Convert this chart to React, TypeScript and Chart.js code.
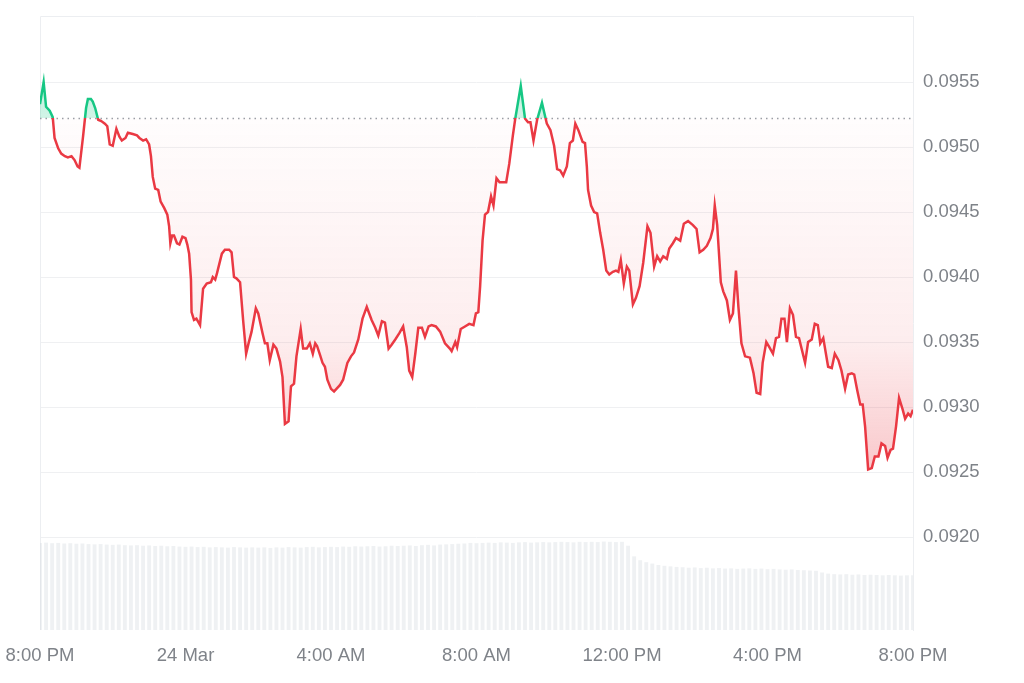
import { useEffect, useRef } from "react"
import { Chart, registerables } from "chart.js"

Chart.register(...registerables)

// x axis: minutes after 8:00 PM (23 Mar)
const X_TICKS = [0, 240, 480, 720, 960, 1200, 1440]
const X_LABELS = ["8:00 PM", "24 Mar", "4:00 AM", "8:00 AM", "12:00 PM", "4:00 PM", "8:00 PM"]
const Y_TICKS = [0.092, 0.0925, 0.093, 0.0935, 0.094, 0.0945, 0.095, 0.0955]

// reference price (dotted line)
const BASELINE = 0.09522

const TIMES = [
  0, 6, 10, 16, 21, 24, 30, 35, 41, 46,
  52, 57, 62, 65, 71, 76, 79, 84, 87, 91,
  96, 101, 107, 111, 115, 120, 126, 131, 135, 141,
  145, 153, 160, 164, 170, 175, 180, 183, 186, 190,
  195, 199, 205, 210, 213, 215, 218, 221, 226, 230,
  235, 240, 243, 246, 249, 250, 254, 258, 264, 269,
  275, 282, 285, 289, 292, 300, 305, 312, 316, 320,
  324, 330, 335, 340, 344, 349, 356, 360, 367, 371,
  375, 379, 385, 390, 396, 400, 404, 410, 414, 419,
  423, 430, 434, 440, 445, 450, 454, 457, 462, 466,
  470, 474, 480, 485, 489, 495, 500, 507, 513, 518,
  525, 532, 539, 547, 553, 558, 564, 569, 575, 580,
  586, 593, 599, 605, 609, 614, 619, 624, 630, 635,
  641, 646, 653, 660, 668, 676, 679, 685, 688, 694,
  701, 708, 715, 719, 723, 726, 730, 734, 739, 744,
  748, 753, 758, 769, 774, 780, 784, 793, 800, 805,
  809, 814, 820, 828, 834, 836, 842, 848, 853, 858,
  863, 869, 874, 879, 883, 888, 895, 899, 902, 904,
  909, 914, 919, 924, 929, 934, 939, 945, 950, 954,
  958, 963, 968, 972, 978, 983, 989, 995, 1002, 1007,
  1013, 1018, 1023, 1028, 1034, 1038, 1044, 1049, 1056, 1062,
  1069, 1077, 1083, 1088, 1094, 1100, 1106, 1110, 1113, 1117,
  1123, 1127, 1133, 1138, 1143, 1148, 1152, 1157, 1163, 1171,
  1177, 1182, 1188, 1192, 1198, 1203, 1209, 1214, 1219, 1223,
  1228, 1232, 1237, 1242, 1247, 1252, 1262, 1267, 1273, 1278,
  1283, 1287, 1292, 1300, 1306, 1311, 1317, 1322, 1328, 1333,
  1339, 1343, 1348, 1353, 1357, 1361, 1366, 1372, 1377, 1383,
  1388, 1394, 1398, 1403, 1407, 1412, 1417, 1423, 1427, 1432,
  1436, 1440,
]

const PRICES = [
  0.09533, 0.0955, 0.09531, 0.09528, 0.09523, 0.09507, 0.09499, 0.09495, 0.09493, 0.09492,
  0.09493, 0.0949, 0.09485, 0.09484, 0.09508, 0.0953, 0.09537, 0.09537, 0.09535, 0.0953,
  0.09521, 0.0952, 0.09518, 0.09516, 0.09502, 0.09501, 0.09514, 0.09508, 0.09505, 0.09507,
  0.09511, 0.0951, 0.09509, 0.09507, 0.09505, 0.09506, 0.09502, 0.09493, 0.09477, 0.09468,
  0.09467, 0.09458, 0.09453, 0.09448, 0.09439, 0.09426, 0.09432, 0.09432, 0.09426, 0.09425,
  0.09431, 0.0943, 0.09425, 0.09418, 0.09398, 0.09373, 0.09367, 0.09368, 0.09363, 0.09391,
  0.09395, 0.09396, 0.094, 0.09398, 0.09403, 0.09418, 0.09421, 0.09421, 0.09419, 0.094,
  0.09399, 0.09396, 0.09367, 0.09341, 0.09349, 0.09358, 0.09376, 0.09372, 0.09357, 0.09349,
  0.09349, 0.09336, 0.09348, 0.09345, 0.09335, 0.09323, 0.09287, 0.09289, 0.09316, 0.09318,
  0.09339, 0.0936, 0.09345, 0.09345, 0.09349, 0.09341, 0.09349, 0.09347, 0.0934, 0.09334,
  0.09331, 0.09321, 0.09314, 0.09312, 0.09314, 0.09317, 0.09321, 0.09334, 0.09339, 0.09342,
  0.09352, 0.09368, 0.09377, 0.09367, 0.09361, 0.09355, 0.09366, 0.09365, 0.09345, 0.09348,
  0.09352, 0.09357, 0.09362, 0.09346, 0.09328, 0.09323, 0.09341, 0.09361, 0.09361, 0.09354,
  0.09362, 0.09363, 0.09362, 0.09358, 0.09349, 0.09345, 0.09343, 0.0935, 0.09346, 0.0936,
  0.09362, 0.09364, 0.09363, 0.09372, 0.09373, 0.09393, 0.09428, 0.09448, 0.0945, 0.09462,
  0.09455, 0.09476, 0.09473, 0.09473, 0.09487, 0.09509, 0.09522, 0.09547, 0.09522, 0.09519,
  0.09519, 0.09505, 0.09521, 0.09534, 0.09522, 0.09518, 0.09513, 0.09501, 0.09483, 0.09482,
  0.09478, 0.09485, 0.09503, 0.09505, 0.09518, 0.09513, 0.09504, 0.09503, 0.09485, 0.09467,
  0.09455, 0.0945, 0.09449, 0.09434, 0.09421, 0.09405, 0.09402, 0.09404, 0.09405, 0.09404,
  0.09413, 0.09395, 0.09408, 0.09405, 0.09379, 0.09384, 0.09393, 0.09411, 0.09439, 0.09434,
  0.09408, 0.09416, 0.09412, 0.09416, 0.09414, 0.09422, 0.09426, 0.0943, 0.09428, 0.09441,
  0.09443, 0.0944, 0.09437, 0.09419, 0.09421, 0.09424, 0.0943, 0.09437, 0.09455, 0.0944,
  0.09396, 0.09389, 0.09382, 0.09367, 0.09372, 0.09405, 0.09377, 0.09349, 0.09339, 0.09338,
  0.09326, 0.09311, 0.0931, 0.09334, 0.0935, 0.09346, 0.09341, 0.09353, 0.09354, 0.09368,
  0.09368, 0.0935, 0.09376, 0.09371, 0.09354, 0.09353, 0.09334, 0.0935, 0.09352, 0.09364,
  0.09363, 0.09349, 0.09353, 0.09331, 0.0933, 0.09341, 0.09336, 0.09328, 0.09314, 0.09325,
  0.09326, 0.09325, 0.09313, 0.09302, 0.09302, 0.09285, 0.09252, 0.09253, 0.09262, 0.09262,
  0.09272, 0.0927, 0.09261, 0.09267, 0.09268, 0.09285, 0.09307, 0.09298, 0.09291, 0.09295,
  0.09293, 0.09298,
]

// 24h volume, one bar every 10 minutes (millions)
const VOLUME_STEP = 10
const VOLUMES = [
  31.2, 31.3, 31.1, 31.2, 31.0, 31.1, 30.9, 31.0, 30.8, 30.7, 30.8, 30.6,
  30.5, 30.6, 30.4, 30.3, 30.4, 30.2, 30.3, 30.1, 30.2, 30.0, 30.1, 29.9,
  29.8, 29.9, 29.7, 29.8, 29.6, 29.7, 29.6, 29.5, 29.7, 29.6, 29.5, 29.6,
  29.5, 29.6, 29.4, 29.6, 29.5, 29.7, 29.6, 29.5, 29.7, 29.8, 29.6, 29.7,
  29.8, 29.7, 29.9, 29.8, 30.0, 29.9, 30.0, 30.1, 29.9, 30.0, 30.2, 30.1,
  30.2, 30.3, 30.1, 30.4, 30.5, 30.3, 30.6, 30.7, 30.8, 30.9, 31.0, 31.2,
  31.1, 31.2, 31.3, 31.2, 31.4, 31.3, 31.2, 31.4, 31.5, 31.3, 31.4, 31.5,
  31.4, 31.5, 31.6, 31.5, 31.4, 31.6, 31.5, 31.6, 31.5, 31.7, 31.6, 31.5,
  31.6, 30.2, 26.4, 25.0, 24.3, 23.8, 23.3, 23.0, 22.8, 22.6, 22.5, 22.3,
  22.4, 22.2, 22.3, 22.1, 22.2, 22.0, 22.1, 21.9, 22.0, 22.1, 21.9, 22.0,
  21.8, 21.9, 21.7, 21.6, 21.7, 21.5, 21.4, 21.3, 21.2, 20.6, 20.2, 20.0,
  19.9, 20.0, 19.8, 19.9, 19.7, 19.8, 19.7, 19.6, 19.7, 19.6, 19.5, 19.6,
  19.6,
]

const GREEN = "#16c784"
const RED = "#ea3943"
const TEXT = "#7f8389"
const GRID = "#eff0f2"

function lineColor(chart: Chart) {
  const { ctx, chartArea, scales } = chart
  if (!chartArea) return RED
  const y = scales.y.getPixelForValue(BASELINE)
  const f = Math.min(1, Math.max(0, (y - chartArea.top) / (chartArea.bottom - chartArea.top)))
  const g = ctx.createLinearGradient(0, chartArea.top, 0, chartArea.bottom)
  g.addColorStop(0, GREEN)
  g.addColorStop(f, GREEN)
  g.addColorStop(f, RED)
  g.addColorStop(1, RED)
  return g
}

function fillColor(chart: Chart) {
  const { ctx, chartArea, scales } = chart
  if (!chartArea) return "rgba(234,57,67,0.1)"
  const top = chartArea.top
  const low = scales.y.getPixelForValue(0.0925)
  const span = low - top
  const fBase = (scales.y.getPixelForValue(BASELINE) - top) / span
  const fMid = (scales.y.getPixelForValue(0.0935) - top) / span
  const g = ctx.createLinearGradient(0, top, 0, low)
  g.addColorStop(0, "rgba(22,199,132,0.35)")
  g.addColorStop(fBase, "rgba(22,199,132,0.2)")
  g.addColorStop(fBase, "rgba(234,57,67,0.01)")
  g.addColorStop(fMid, "rgba(234,57,67,0.09)")
  g.addColorStop(1, "rgba(234,57,67,0.28)")
  return g
}

// light frame on the left and top, plus the dotted reference line
const framePlugin = {
  id: "frame",
  beforeDatasetsDraw(chart: Chart) {
    const { ctx, chartArea: a, scales } = chart
    ctx.save()
    ctx.strokeStyle = "#eceef1"
    ctx.lineWidth = 1
    ctx.beginPath()
    ctx.moveTo(a.left + 0.5, a.bottom)
    ctx.lineTo(a.left + 0.5, a.top + 0.5)
    ctx.lineTo(a.right, a.top + 0.5)
    ctx.stroke()
    const y = scales.y.getPixelForValue(BASELINE)
    ctx.setLineDash([1.5, 4])
    ctx.strokeStyle = "#9a9ea5"
    ctx.lineWidth = 1.5
    ctx.beginPath()
    ctx.moveTo(a.left, y)
    ctx.lineTo(a.right, y)
    ctx.stroke()
    ctx.restore()
  },
}

export default function App() {
  const chartRef = useRef<HTMLCanvasElement>(null)
  const chartInstance = useRef<Chart | null>(null)

  useEffect(() => {
    document.body.style.margin = "0"
    if (!chartRef.current) return
    if (chartInstance.current) chartInstance.current.destroy()
    const ctx = chartRef.current.getContext("2d")
    if (!ctx) return

    const n = Math.min(TIMES.length, PRICES.length)
    const pricePoints = TIMES.slice(0, n).map((t, i) => ({ x: t, y: PRICES[i] }))
    const volumePoints = VOLUMES.map((v, i) => ({ x: i * VOLUME_STEP, y: v }))
    const font = { family: "'Liberation Sans', Arial, sans-serif", size: 18.5 }

    chartInstance.current = new Chart(ctx, {
      type: "line",
      data: {
        datasets: [
          {
            type: "line",
            label: "Price",
            data: pricePoints,
            yAxisID: "y",
            borderWidth: 2.5,
            pointRadius: 0,
            tension: 0,
            borderColor: (c: any) => lineColor(c.chart),
            backgroundColor: (c: any) => fillColor(c.chart),
            fill: { target: { value: BASELINE } },
            order: 1,
          },
          {
            type: "bar",
            label: "Volume",
            data: volumePoints,
            yAxisID: "y2",
            backgroundColor: "rgba(214,218,224,0.38)",
            barPercentage: 0.8,
            categoryPercentage: 0.8,
            order: 2,
          },
        ] as any,
      },
      options: {
        responsive: false,
        animation: false,
        layout: { padding: { top: 16, left: 40, right: 0, bottom: 0 } },
        scales: {
          x: {
            type: "linear",
            min: 0,
            max: 1440,
            offset: false,
            grid: { display: false, drawTicks: false },
            border: { display: false },
            afterBuildTicks: (scale: any) => {
              scale.ticks = X_TICKS.map((value) => ({ value }))
            },
            afterFit: (scale: any) => {
              scale.height = 53
              scale.paddingLeft = 0
              scale.paddingRight = 0
            },
            ticks: {
              autoSkip: false,
              maxRotation: 0,
              padding: 15,
              color: TEXT,
              font,
              callback: (_v: any, i: number) => X_LABELS[i],
            },
          },
          y: {
            position: "right",
            min: 0.091285,
            max: 0.096008,
            grid: { color: GRID, drawTicks: false },
            border: { display: true, color: "#eceef1" },
            afterBuildTicks: (scale: any) => {
              scale.ticks = Y_TICKS.map((value) => ({ value }))
            },
            afterFit: (scale: any) => {
              scale.width = 111
              scale.paddingTop = 0
              scale.paddingBottom = 0
            },
            ticks: {
              padding: 10,
              color: TEXT,
              font,
              callback: (v: any) => Number(v).toFixed(4),
            },
          },
          y2: {
            display: false,
            min: 0,
            max: 220,
          },
        },
        plugins: {
          legend: { display: false },
          tooltip: { enabled: false },
        },
      },
      plugins: [framePlugin],
    })

    return () => {
      if (chartInstance.current) {
        chartInstance.current.destroy()
        chartInstance.current = null
      }
    }
  }, [])

  return <canvas ref={chartRef} width={1024} height={683} />
}
